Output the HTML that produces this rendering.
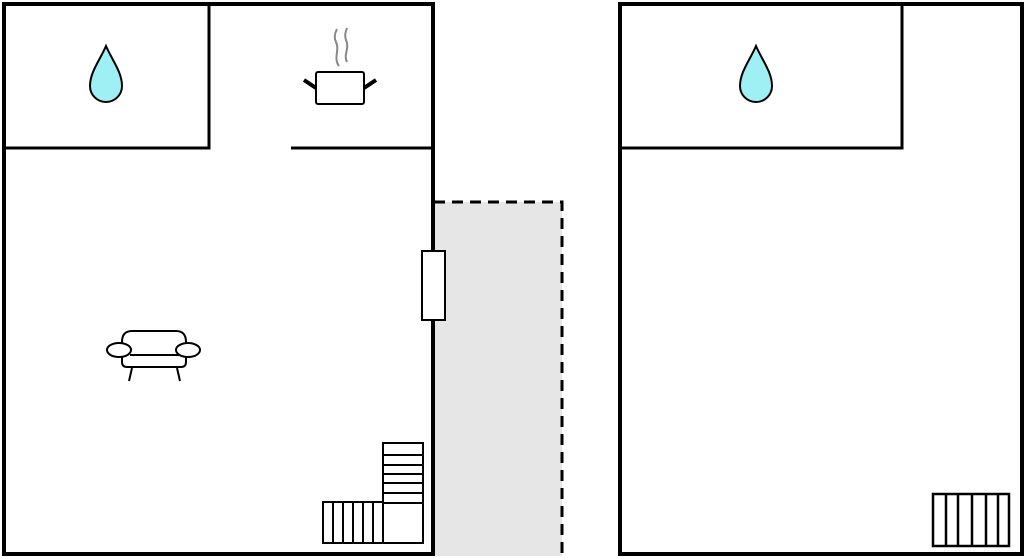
<!DOCTYPE html>
<html><head><style>html,body{margin:0;padding:0;background:#fff}svg{display:block}</style></head>
<body>
<svg width="1024" height="558" viewBox="0 0 1024 558" xmlns="http://www.w3.org/2000/svg">
<rect x="0" y="0" width="1024" height="558" fill="#fff"/>
<!-- corridor -->
<rect x="434" y="202" width="128" height="354" fill="#e6e6e6"/>
<path d="M434 202 H562 V556" fill="none" stroke="#000" stroke-width="3" stroke-dasharray="11,7"/>
<!-- left building -->
<rect x="4" y="4" width="429" height="550" fill="none" stroke="#000" stroke-width="4"/>
<path d="M4 148 H209 V4" fill="none" stroke="#000" stroke-width="3"/>
<path d="M291 148 H433" fill="none" stroke="#000" stroke-width="3"/>
<!-- right building -->
<rect x="620" y="4" width="402" height="550" fill="none" stroke="#000" stroke-width="4"/>
<path d="M620 148 H902 V4" fill="none" stroke="#000" stroke-width="3"/>
<!-- door -->
<rect x="422" y="251" width="23" height="69" fill="#fff" stroke="#000" stroke-width="2"/>
<!-- drops -->
<path d="M106 46 C100 60 90 72 90 86 A16 16 0 0 0 122 86 C122 72 112 60 106 46 Z" fill="#9ef0f5" stroke="#000" stroke-width="2"/>
<path d="M756 46 C750 60 740 72 740 86 A16 16 0 0 0 772 86 C772 72 762 60 756 46 Z" fill="#9ef0f5" stroke="#000" stroke-width="2"/>
<!-- pot -->
<rect x="316" y="72" width="48" height="32" rx="2" fill="#fff" stroke="#000" stroke-width="2"/>
<path d="M304 80 L316 88 M376 80 L364 88" stroke="#000" stroke-width="4"/>
<path d="M339 66 C333 58 340 50 336 42 C333 36 336 31 337 29 M347 62 C343 55 350 48 346 40 C344 35 346 31 347 28" fill="none" stroke="#888" stroke-width="2"/>
<!-- sofa -->
<g fill="#fff" stroke="#000" stroke-width="2">
<path d="M122 342 Q122 331 132 331 H176 Q186 331 186 342 V362 Q186 367 181 367 H127 Q122 367 122 362 Z"/>
<ellipse cx="119" cy="350" rx="12" ry="7"/>
<ellipse cx="188" cy="350" rx="12" ry="7"/>
<path d="M130 355 H180" fill="none"/>
<path d="M132 368 L129 381 M177 368 L180 381" fill="none"/>
</g>
<!-- left stairs -->
<g fill="#fff" stroke="#000" stroke-width="2">
<rect x="383" y="443" width="40" height="100"/>
<rect x="323" y="502" width="60" height="41"/>
<path d="M383 455 H423 M383 465 H423 M383 474 H423 M383 483 H423 M383 493 H423 M383 503 H423" fill="none"/>
<path d="M333 502 V543 M343 502 V543 M353 502 V543 M363 502 V543 M373 502 V543" fill="none"/>
</g>
<!-- right stairs -->
<g fill="#fff" stroke="#000" stroke-width="2.5">
<rect x="933" y="494" width="76" height="52"/>
<path d="M946 494 V546 M958 494 V546 M972 494 V546 M986 494 V546 M998 494 V546" fill="none"/>
</g>
</svg>
</body></html>
